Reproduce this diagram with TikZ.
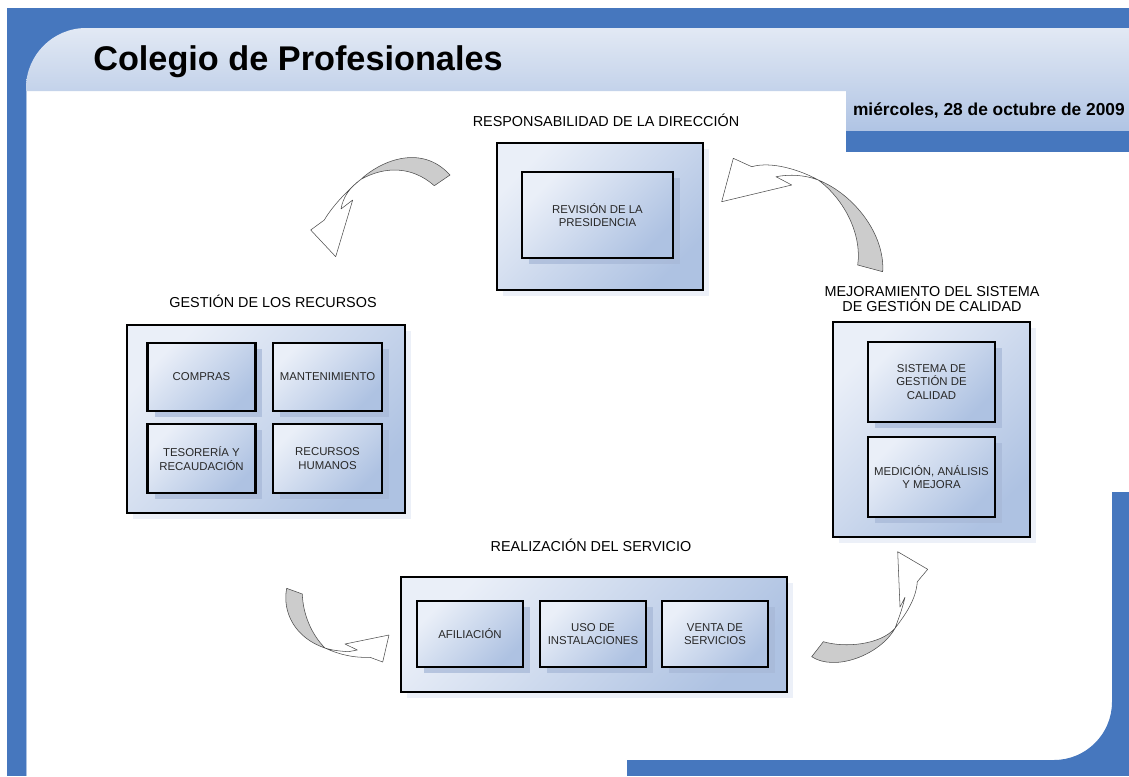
\documentclass[tikz,border=0pt]{standalone}
\usepackage{fontspec}
\setmainfont{Liberation Sans}
\usetikzlibrary{shadows}
\definecolor{frameblue}{RGB}{70,119,190}
\definecolor{hdrtop}{RGB}{226,233,244}
\definecolor{hdrbot}{RGB}{176,196,228}
\definecolor{boxlight}{RGB}{234,239,248}
\definecolor{boxdark}{RGB}{174,194,226}
\definecolor{innshadow}{RGB}{168,185,216}
\definecolor{outshadow}{RGB}{236,240,248}
\definecolor{arrowgrey}{RGB}{204,204,204}
\definecolor{txtgrey}{RGB}{40,40,40}
\begin{document}
\begin{tikzpicture}[x=0.75pt,y=-0.75pt,
  outerbox/.style={draw=black, line width=2.1pt, top color=boxlight, bottom color=boxdark, shading angle=45,
    drop shadow={shadow xshift=4.5pt, shadow yshift=-4.5pt, fill=outshadow, opacity=1}, inner sep=0pt},
  innerbox/.style={draw=black, line width=2.1pt, top color=boxlight, bottom color=boxdark, shading angle=45,
    drop shadow={shadow xshift=5pt, shadow yshift=-4.5pt, fill=innshadow, opacity=0.75},
    font=\fontsize{8.55}{10}\selectfont, align=center, text=txtgrey, inner sep=0pt},
  lbl/.style={font=\fontsize{10.8}{11.6}\selectfont, align=center, inner sep=0pt},
  tailpart/.style={fill=arrowgrey, draw=black!70, line width=0.4pt, line join=round},
  headpart/.style={fill=white, draw=black!70, line width=0.4pt, line join=round}
]
\useasboundingbox (0,0) rectangle (1129,776);
\fill[white] (0,0) rectangle (1129,776);
% frame
\fill[frameblue] (7,8) rectangle (1129,28);
\fill[frameblue] (7,8) rectangle (26,776);
\fill[frameblue] (26,28) rectangle (88,89);
\shade[top color=hdrtop, bottom color=hdrbot] (26,91) -- (26,88) .. controls (26,55) and (53,28) .. (86,28)
   -- (1129,28) -- (1129,131) -- (846,131) -- (846,91) -- cycle;
\fill[frameblue] (846,131) rectangle (1129,152);
\draw[frameblue!45!white, line width=0.6pt] (26.3,91) -- (26.3,776);
\fill[frameblue] (1112,492) rectangle (1129,776);
\fill[frameblue] (627,760) rectangle (1129,776);
\fill[frameblue] (1112,702) .. controls (1112,734) and (1086,760) .. (1054,760) -- (1112,760) -- cycle;
% header texts
\node[anchor=base west, font=\bfseries\fontsize{25.7}{28}\selectfont, inner sep=0pt] (title) at (93,70) {Colegio de Profesionales};
\node[anchor=base east, font=\bfseries\fontsize{13}{15}\selectfont, inner sep=0pt] (date) at (1125,115) {miércoles, 28 de octubre de 2009};

% top group
\node[lbl] (lresp) at (606,120) {RESPONSABILIDAD DE LA DIRECCIÓN};
\node[outerbox, minimum width=154.5pt, minimum height=110.25pt] (resp) at (600,216.5) {};
\node[innerbox, minimum width=113.25pt, minimum height=64.5pt] (rev) at (597.5,215) {REVISIÓN DE LA\\PRESIDENCIA};

% left group
\node[lbl] (lgest) at (273,301) {GESTIÓN DE LOS RECURSOS};
\node[outerbox, minimum width=208.5pt, minimum height=141pt] (gest) at (266,419) {};
\node[innerbox, minimum width=80.5pt, minimum height=51pt] (compras) at (201.5,377) {COMPRAS};
\node[innerbox, minimum width=81.75pt, minimum height=51pt] (mant) at (327.5,377) {MANTENIMIENTO};
\node[innerbox, minimum width=80.5pt, minimum height=51.75pt] (teso) at (201.5,458.5) {TESORERÍA Y\\RECAUDACIÓN};
\node[innerbox, minimum width=81.75pt, minimum height=51.75pt] (rrhh) at (327.5,458.5) {RECURSOS\\HUMANOS};

% right group
\node[lbl] (lmej) at (932,299) {MEJORAMIENTO DEL SISTEMA\\DE GESTIÓN DE CALIDAD};
\node[outerbox, minimum width=147.75pt, minimum height=161.25pt] (mej) at (931.5,429.5) {};
\node[innerbox, minimum width=95.25pt, minimum height=60pt] (sgc) at (931.5,382) {SISTEMA DE\\GESTIÓN DE\\CALIDAD};
\node[innerbox, minimum width=95.25pt, minimum height=60pt] (med) at (931.5,477) {MEDICIÓN, ANÁLISIS\\Y MEJORA};

% bottom group
\node[lbl] (lreal) at (591,545) {REALIZACIÓN DEL SERVICIO};
\node[outerbox, minimum width=289.5pt, minimum height=86.25pt] (real) at (594,634.5) {};
\node[innerbox, minimum width=79.5pt, minimum height=49.5pt] (afil) at (470,634) {AFILIACIÓN};
\node[innerbox, minimum width=79.5pt, minimum height=49.5pt] (uso) at (593,634) {USO DE\\INSTALACIONES};
\node[innerbox, minimum width=79.5pt, minimum height=49.5pt] (venta) at (715,634) {VENTA DE\\SERVICIOS};

% curved arrows
% top-left
\filldraw[tailpart] (361,179.3) .. controls (378,163) and (420,142) .. (450,175) -- (434.3,185.7)
   .. controls (412,166) and (385,166) .. (361,179.3) -- cycle;
\filldraw[headpart] (361,179.3) .. controls (350,188) and (333,205) .. (324.3,220) -- (310.7,230) -- (335.7,256.7)
   -- (352.7,200) -- (341,209) .. controls (343,197) and (350,187) .. (361,179.3) -- cycle;
% top-right
\filldraw[tailpart] (818.3,180) .. controls (855,195) and (885,235) .. (882.7,271.7) -- (857.7,265)
   .. controls (862,235) and (845,200) .. (818.3,180) -- cycle;
\filldraw[headpart] (818.3,180) .. controls (800,170) and (772,161) .. (751.7,166.7) -- (733.3,158.3) -- (721.7,201.7)
   -- (791.7,185) -- (776,176.7) .. controls (790,174) and (805,175) .. (818.3,180) -- cycle;
% bottom-left
\filldraw[tailpart] (286.7,588.3) .. controls (282,612) and (295,638) .. (325,648)
   .. controls (312,635) and (303,615) .. (302.3,594) -- cycle;
\filldraw[headpart] (325,648) .. controls (340,655) and (355,658) .. (370,657.3) -- (382.7,662) -- (389,635)
   -- (345,644) -- (357.3,650) -- (348.3,651.7) .. controls (338,651) and (331,650) .. (325,648) -- cycle;
% bottom-right
\filldraw[tailpart] (811.7,656.7) .. controls (835,672) and (880,655) .. (895,628.3)
   .. controls (880,645) and (845,648) .. (823.3,641.7) -- cycle;
\filldraw[headpart] (895,628.3) .. controls (905,615) and (916,600) .. (917.3,581.7) -- (927.7,569.3) -- (897.7,551.7)
   -- (900,607) -- (905,597.3) .. controls (902,610) and (898,620) .. (895,628.3) -- cycle;
\end{tikzpicture}
\end{document}
